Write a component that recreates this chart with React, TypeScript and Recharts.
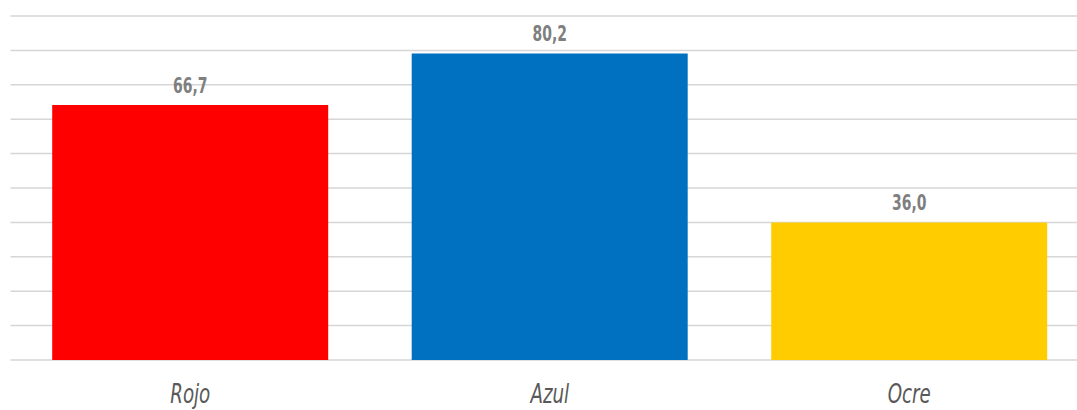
import { BarChart, Bar, XAxis, YAxis, CartesianGrid, Cell, LabelList } from "recharts";

const categories = ["Rojo", "Azul", "Ocre"];
const values = [66.7, 80.2, 36.0];
const colors = ["#FF0000", "#0070C0", "#FFCC00"];
const yTicks = [0, 9, 18, 27, 36, 45, 54, 63, 72, 81, 90];

const data = categories.map((name, i) => ({ name, value: values[i] }));

const FONT = "'Liberation Sans Narrow', 'DejaVu Sans Condensed', Roboto, sans-serif";

const fmt = (v: number) => v.toFixed(1).replace(".", ",");

// narrow look: squeeze the glyphs horizontally around the anchor point
const CategoryTick = (props: any) => {
    const { x, y, payload } = props;
    return (
        <g transform={`translate(${x},${y + 43}) scale(0.78,1)`}>
            <text x={0} y={0} textAnchor="middle" fill="#595959" fontSize={26} fontStyle="italic" fontFamily={FONT}>
                {payload.value}
            </text>
        </g>
    );
};

const ValueLabel = (props: any) => {
    const { x, y, width, value } = props;
    return (
        <g transform={`translate(${x + width / 2},${y - 12}) scale(0.74,1)`}>
            <text x={0} y={0} textAnchor="middle" fill="#7f7f7f" fontSize={21} fontWeight="bold" fontFamily={FONT}>
                {fmt(value)}
            </text>
        </g>
    );
};

const App = () => {
    return (
        <div style={{ position: "fixed", left: 0, top: 0, width: 1077, height: 410, overflow: "hidden", background: "#fff" }}>
            <BarChart
                width={1100}
                height={410}
                data={data}
                barCategoryGap="11.6%"
                margin={{ top: 16, right: 11, bottom: 20, left: 10.5 }}
            >
                <CartesianGrid stroke="#d6d6d6" strokeWidth={1.5} vertical={false} />
                <XAxis
                    dataKey="name"
                    height={30}
                    tickLine={false}
                    axisLine={false}
                    tickSize={0}
                    tickMargin={0}
                    tick={<CategoryTick />}
                    interval={0}
                />
                <YAxis hide domain={[0, 90]} ticks={yTicks} />
                <Bar dataKey="value" isAnimationActive={false}>
                    {data.map((d, i) => (
                        <Cell key={d.name} fill={colors[i]} />
                    ))}
                    <LabelList dataKey="value" content={<ValueLabel />} />
                </Bar>
            </BarChart>
        </div>
    );
};

export default App;
